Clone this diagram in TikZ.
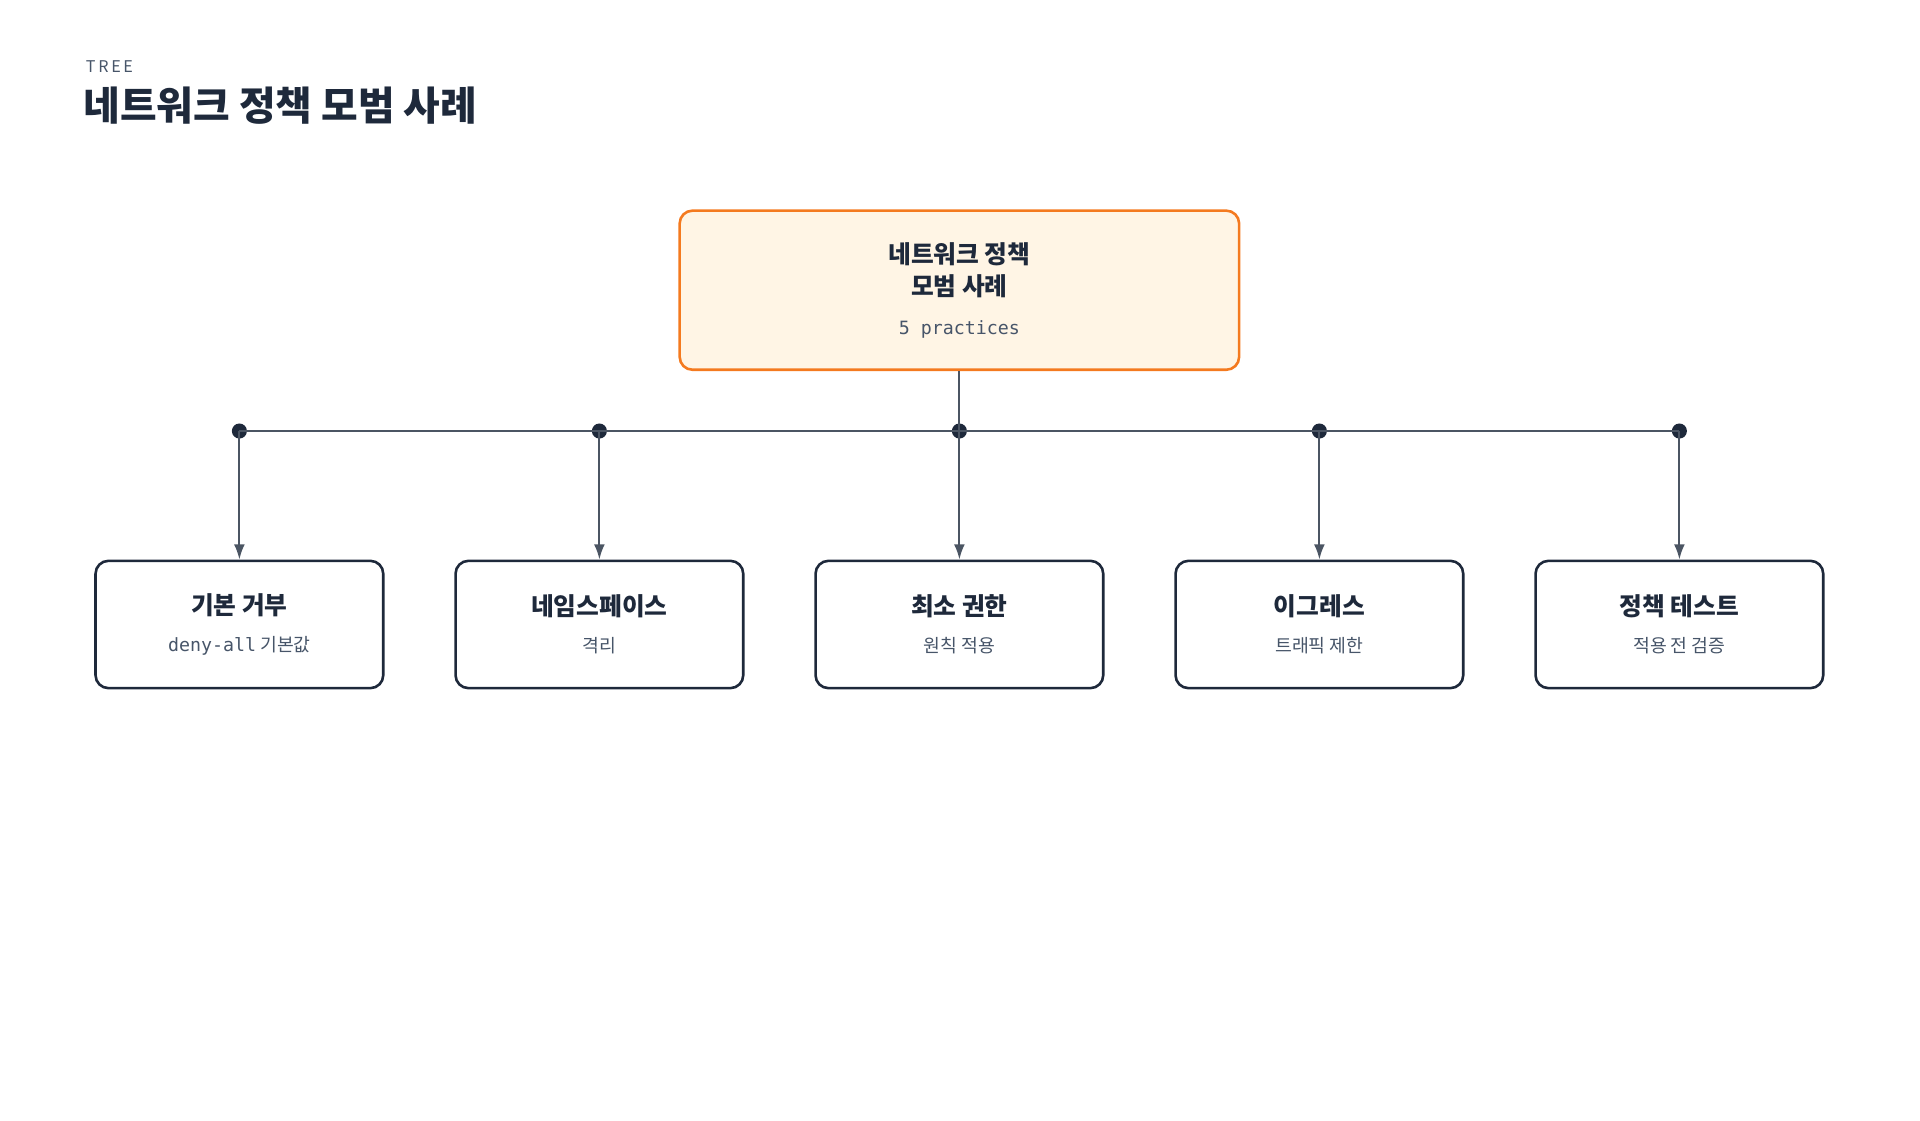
\documentclass[tikz,border=0pt]{standalone}
\usepackage{fontspec}
\setmainfont{Noto Sans CJK KR}
\setmonofont{DejaVu Sans Mono}
\usetikzlibrary{arrows.meta,positioning}
\definecolor{ink}{HTML}{1E293B}
\definecolor{subink}{HTML}{475569}
\definecolor{rootfill}{HTML}{FFF5E5}
\definecolor{rootline}{HTML}{F47A1F}
\definecolor{wire}{HTML}{4B5563}
\tikzset{
  leaf/.style={draw=ink, line width=1.2pt, rounded corners=6pt, fill=white,
               minimum width=4.7cm, minimum height=2.08cm, align=center,
               font=\fontsize{11.5}{17}\selectfont},
  root/.style={draw=rootline, line width=1.2pt, rounded corners=6pt, fill=rootfill,
               minimum width=9.14cm, minimum height=2.6cm, align=center,
               font=\fontsize{11.5}{15}\selectfont},
  dot/.style={circle, fill=ink, inner sep=0pt, minimum size=7pt},
  link/.style={draw=wire, line width=0.9pt, -{Latex[length=7pt,width=5pt]}}
}
\newcommand{\hd}[1]{{\bfseries\color{ink}#1}}
\newcommand{\sub}[1]{{\fontsize{8.5}{12}\selectfont\color{subink}#1}}
\begin{document}
\begin{tikzpicture}[x=0.02cm,y=-0.02cm]
\useasboundingbox (0,0) rectangle (1568,915);

\node[anchor=west, text=subink, font=\fontsize{7.5}{9}\selectfont] (tag) at (64,54) {T\,R\,E\,E};
\node[anchor=west, text=ink, font=\fontsize{18.5}{22}\selectfont\bfseries] (title) at (62,86) {네트워크 정책 모범 사례};

\node[root] (top) at (783.5,237) {\hd{네트워크 정책}\\\hd{모범 사례}\\[3pt]\sub{\ttfamily 5 practices}};
\coordinate (hub) at (783.5,352);

\node[leaf] (deny) at (195.5,510) {\hd{기본 거부}\\\sub{\texttt{deny-all} 기본값}};
\node[leaf] (ns) at (489.5,510) {\hd{네임스페이스}\\\sub{격리}};
\node[leaf] (least) at (783.5,510) {\hd{최소 권한}\\\sub{원칙 적용}};
\node[leaf] (egress) at (1077.5,510) {\hd{이그레스}\\\sub{트래픽 제한}};
\node[leaf] (test) at (1371.5,510) {\hd{정책 테스트}\\\sub{적용 전 검증}};

\foreach \n in {deny,ns,least,egress,test}
  \node[dot] (\n-j) at (\n.north |- hub) {};

\draw[wire, line width=0.9pt] (top.south) -- (least-j.center);
\draw[wire, line width=0.9pt] (deny-j.center) -- (test-j.center);
\foreach \n in {deny,ns,least,egress,test}
  \draw[link] (\n-j.center) -- (\n.north);
\end{tikzpicture}
\end{document}
